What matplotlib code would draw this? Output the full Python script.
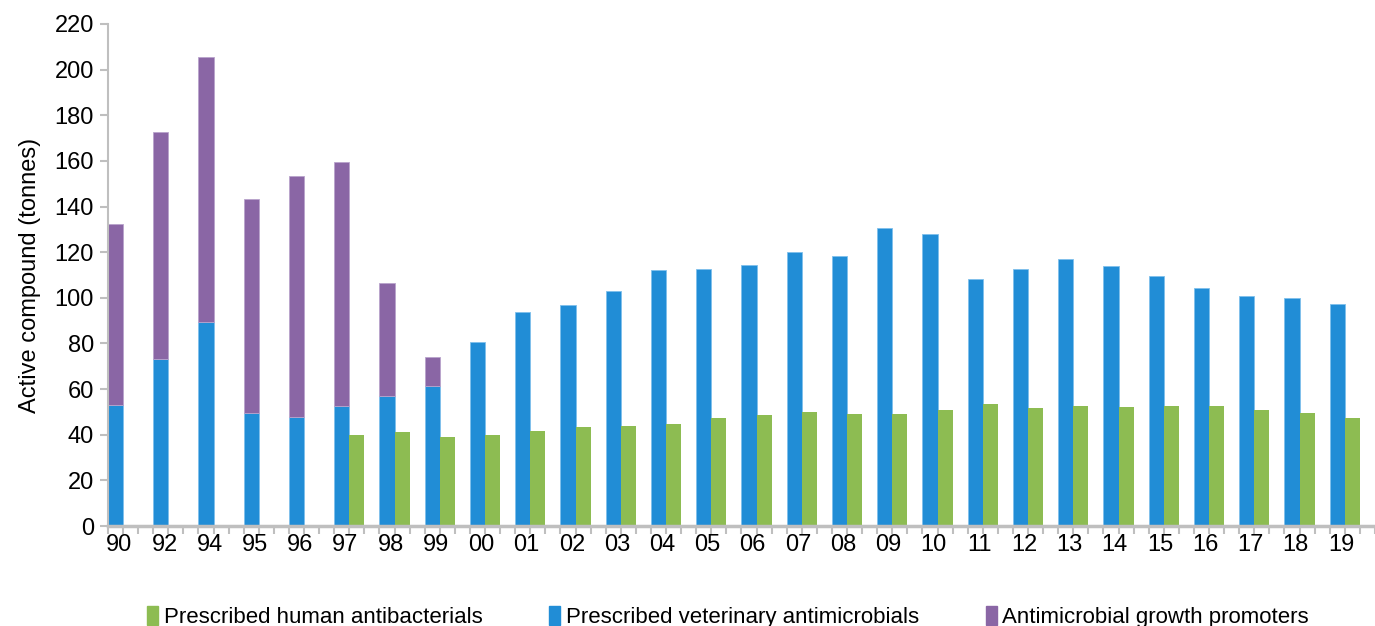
import matplotlib
matplotlib.use("Agg")
import matplotlib.pyplot as plt
from matplotlib.patches import Patch
import numpy as np

plt.rcParams['font.family'] = ['Liberation Sans', 'DejaVu Sans']

years = ["90", "92", "94", "95", "96", "97", "98", "99", "00", "01", "02", "03", "04",
         "05", "06", "07", "08", "09", "10", "11", "12", "13", "14", "15", "16", "17", "18", "19"]
veterinary = [53.1, 73.0, 89.6, 49.4, 47.8, 52.5, 57.0, 61.4, 80.5, 93.8, 96.9, 103.0, 112.2,
              112.5, 114.4, 120.1, 118.2, 130.5, 127.8, 108.4, 112.8, 116.9, 114.1, 109.6,
              104.2, 100.8, 99.9, 97.2]
growth_total = [132.4, 172.7, 205.7, 143.4, 153.6, 159.7, 106.6, 74.0]
human = [None, None, None, None, None, 39.8, 41.1, 38.9, 39.9, 41.6, 43.4, 43.8, 44.7,
         47.3, 48.6, 50.0, 49.1, 49.1, 50.8, 53.5, 51.7, 52.6, 52.2, 52.6, 52.6, 50.8,
         49.5, 47.3]

c_blue = "#218DD6"
c_green = "#8DBC52"
c_purple = "#8A66A5"
c_axis = "#BFBFBF"

fig = plt.figure(figsize=(13.75, 6.26), dpi=100)
ax = fig.add_axes([0.0785, 0.1597, 0.9215, 0.802])

n = len(years)
x = np.arange(n)
w = 1 / 3

ax.bar(x, veterinary, width=w, align='edge', color=c_blue, edgecolor="#7FC0EC", linewidth=0.6, zorder=2)
gp_idx = np.arange(len(growth_total))
gp_vals = [t - v for t, v in zip(growth_total, veterinary[:len(growth_total)])]
ax.bar(gp_idx, gp_vals, bottom=veterinary[:len(growth_total)], width=w, align='edge',
       color=c_purple, edgecolor="#B9A3CC", linewidth=0.6, zorder=2)
hx = [xi + w for xi, h in zip(x, human) if h is not None]
hv = [h for h in human if h is not None]
ax.bar(hx, hv, width=w, align='edge', color=c_green, linewidth=0, zorder=2)

ax.set_xlim(0, 27.9)
ax.set_ylim(0, 220)
ax.set_yticks(np.arange(0, 221, 20))
ax.set_xticks(x + 0.25)
ax.set_xticklabels(years)
ax.set_xticks(np.arange(0, 28 * 3 + 1) / 3, minor=True)

for s in ['top', 'right']:
    ax.spines[s].set_visible(False)
ax.spines['left'].set_color(c_axis)
ax.spines['left'].set_linewidth(1.5)
ax.spines['bottom'].set_color(c_axis)
ax.spines['bottom'].set_linewidth(2.5)

ax.tick_params(axis='y', direction='out', length=6, width=1.5, color=c_axis, labelsize=17,
               labelcolor='black', pad=4)
ax.tick_params(axis='x', which='major', length=0, labelsize=17, pad=6)
ax.tick_params(axis='x', which='minor', direction='out', length=6, width=1.5, color=c_axis)

ax.set_ylabel("Active compound (tonnes)", fontsize=17, labelpad=10)

handles = [Patch(color=c_green, label="Prescribed human antibacterials"),
           Patch(color=c_blue, label="Prescribed veterinary antimicrobials"),
           Patch(color=c_purple, label="Antimicrobial growth promoters")]
fig.legend(handles=handles, loc='center left', bbox_to_anchor=(0.107, 0.014), ncol=3,
           frameon=False, fontsize=16, handlelength=0.5, handleheight=0.9, handletextpad=0.25,
           columnspacing=3.0, borderaxespad=0, borderpad=0)

fig.savefig("out.png", dpi=100)
